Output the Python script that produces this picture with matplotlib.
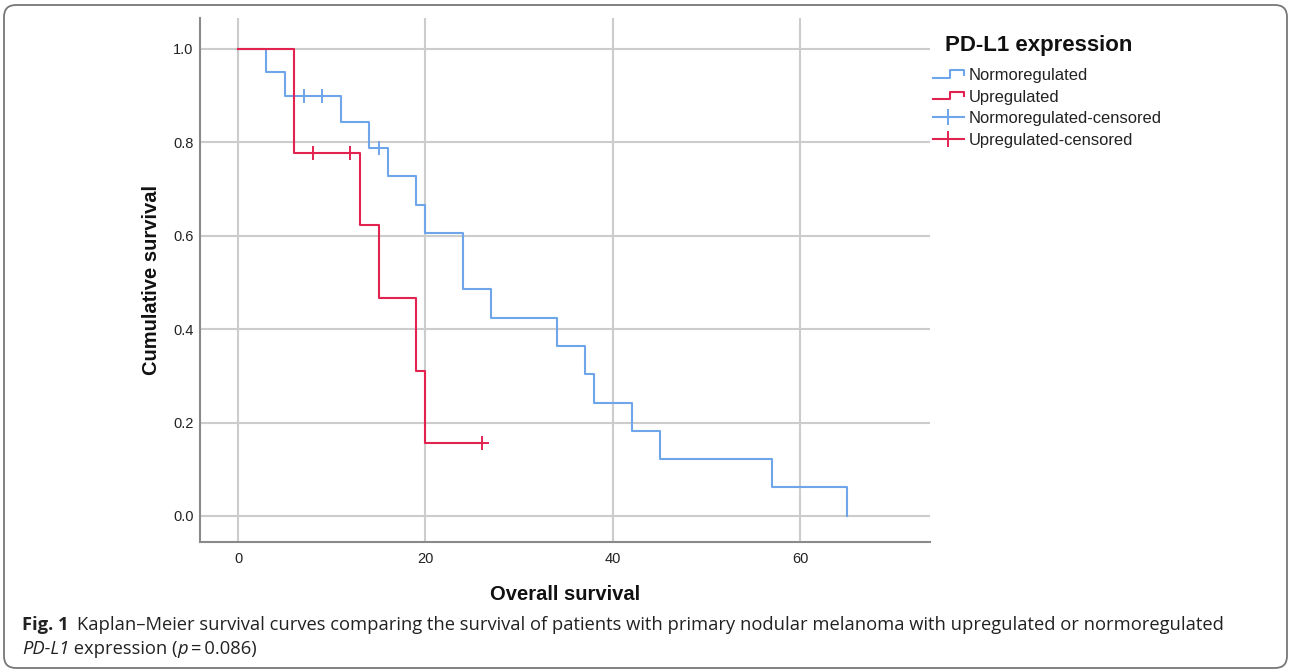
import matplotlib
matplotlib.use("Agg")
import matplotlib.pyplot as plt
from matplotlib.lines import Line2D
from matplotlib.legend_handler import HandlerBase
from matplotlib.patches import FancyBboxPatch

# Kaplan-Meier step data
normo_times = [0, 3, 5, 11, 14, 16, 19, 20, 24, 27, 34, 37, 38, 42, 45, 57, 65]
normo_surv = [1.0, 0.95, 0.90, 0.844, 0.788, 0.727, 0.666, 0.606, 0.485,
              0.424, 0.364, 0.303, 0.242, 0.182, 0.121, 0.061, 0.0]
normo_cens_t = [7, 9, 15]
normo_cens_s = [0.90, 0.90, 0.788]

up_times = [0, 6, 13, 15, 19, 20, 26]
up_surv = [1.0, 0.778, 0.622, 0.467, 0.311, 0.156, 0.156]
up_cens_t = [8, 12, 26]
up_cens_s = [0.778, 0.778, 0.156]

x_ticks = [0, 20, 40, 60]
y_ticks = [0.0, 0.2, 0.4, 0.6, 0.8, 1.0]
legend_labels = ["Normoregulated", "Upregulated",
                 "Normoregulated-censored", "Upregulated-censored"]

BLUE = "#6fa6ea"
RED = "#e2234f"
SANS = "Liberation Sans"
CAP = "Open Sans"
CAP_SIZE = 13.2

W, H = 1290, 671
fig = plt.figure(figsize=(W / 100, H / 100), dpi=100)
ax = fig.add_axes([200 / W, 1 - 542 / H, 730 / W, 524 / H])

ax.step(normo_times, normo_surv, where="post", color=BLUE, lw=1.5, zorder=3)
ax.step(up_times, up_surv, where="post", color=RED, lw=1.5, zorder=4)
ax.plot(normo_cens_t, normo_cens_s, ls="none", marker="+", ms=10, mew=1.4,
        color=BLUE, zorder=3)
ax.plot(up_cens_t, up_cens_s, ls="none", marker="+", ms=10, mew=1.4,
        color=RED, zorder=4)

ax.set_xlim(-4.06, 73.85)
ax.set_ylim(-0.0557, 1.066)
ax.set_xticks(x_ticks)
ax.set_yticks(y_ticks)
ax.set_yticklabels([f"{v:.1f}" for v in y_ticks])
ax.grid(True, color="#cccccc", lw=1.5, zorder=0)
ax.set_axisbelow(True)
ax.tick_params(length=0, labelsize=10.5, colors="#222222")
ax.tick_params(axis="y", pad=4.5)
ax.tick_params(axis="x", pad=7)
for lab in ax.get_xticklabels() + ax.get_yticklabels():
    lab.set_fontfamily(SANS)
for s in ["top", "right"]:
    ax.spines[s].set_visible(False)
for s in ["left", "bottom"]:
    ax.spines[s].set_color("#8a8a8a")
    ax.spines[s].set_linewidth(1.5)

ax.set_xlabel("Overall survival", fontsize=14.5, fontweight="bold",
              family=SANS, color="#111111")
ax.set_ylabel("Cumulative survival", fontsize=14.5, fontweight="bold",
              family=SANS, color="#111111")
ax.xaxis.set_label_coords(0.5, -0.083)
ax.yaxis.set_label_coords(-0.054, 0.5)


class StepHandler(HandlerBase):
    def create_artists(self, legend, orig_handle, xdescent, ydescent,
                       width, height, fontsize, trans):
        x0 = -xdescent
        lo = -ydescent + height * 0.2
        hi = -ydescent + height * 0.85
        mid = -ydescent + height * 0.45
        xs = [x0, x0 + width * 0.55, x0 + width * 0.55, x0 + width, x0 + width]
        ys = [lo, lo, hi, hi, mid]
        ln = Line2D(xs, ys, color=orig_handle.get_color(), lw=1.5,
                    transform=trans)
        return [ln]


h_normo = Line2D([], [], color=BLUE)
h_up = Line2D([], [], color=RED)
h_nc = Line2D([], [], color=BLUE, lw=1.5, marker="|", ms=12, mew=1.4)
h_uc = Line2D([], [], color=RED, lw=1.5, marker="|", ms=12, mew=1.4)
leg = ax.legend([h_normo, h_up, h_nc, h_uc], legend_labels,
                handler_map={h_normo: StepHandler(), h_up: StepHandler()},
                loc="upper left", bbox_to_anchor=(933 / W, 1 - 68 / H),
                bbox_transform=fig.transFigure, frameon=False, numpoints=1,
                handlelength=1.85, handletextpad=0.3, labelspacing=0.4,
                borderpad=0, borderaxespad=0,
                prop={"family": SANS, "size": 11.9})
for t in leg.get_texts():
    t.set_color("#222222")
fig.text(1039 / W, 1 - 45 / H, "PD-L1 expression", family=SANS, fontsize=16,
         fontweight="bold", ha="center", va="center", color="#111111")

# caption
cy = 1 - 634 / H
t1 = fig.text(22 / W, cy, "Fig. 1", fontsize=CAP_SIZE, fontweight="bold",
              family=CAP, color="#222222", va="bottom")
t2 = ax.annotate("Kaplan–Meier survival curves comparing the survival of patients "
                 "with primary nodular melanoma with upregulated or normoregulated",
                 xy=(1, 0), xycoords=t1, xytext=(6, 0), textcoords="offset points",
                 fontsize=CAP_SIZE, family=CAP, color="#222222", va="bottom",
                 annotation_clip=False)
cy2 = 1 - 658 / H
p1 = fig.text(22 / W, cy2, "PD-L1", fontsize=CAP_SIZE, style="italic",
              family=CAP, color="#222222", va="bottom")
p2 = ax.annotate(" expression (", xy=(1, 0), xycoords=p1, fontsize=CAP_SIZE,
                 family=CAP, color="#222222", va="bottom", annotation_clip=False)
p3 = ax.annotate("p", xy=(1, 0), xycoords=p2, fontsize=CAP_SIZE, style="italic",
                 family=CAP, color="#222222", va="bottom", annotation_clip=False)
p4 = ax.annotate("\u2009=\u20090.086)", xy=(1, 0), xycoords=p3, fontsize=CAP_SIZE,
                 family=[CAP, "DejaVu Sans"], color="#222222", va="bottom",
                 annotation_clip=False)

border = FancyBboxPatch((4, 3), 1283, 663, boxstyle="round,pad=0,rounding_size=12",
                        transform=None, fill=False, edgecolor="#777777", lw=1.3)
fig.patches.append(border)

fig.savefig("out.png", dpi=100)
